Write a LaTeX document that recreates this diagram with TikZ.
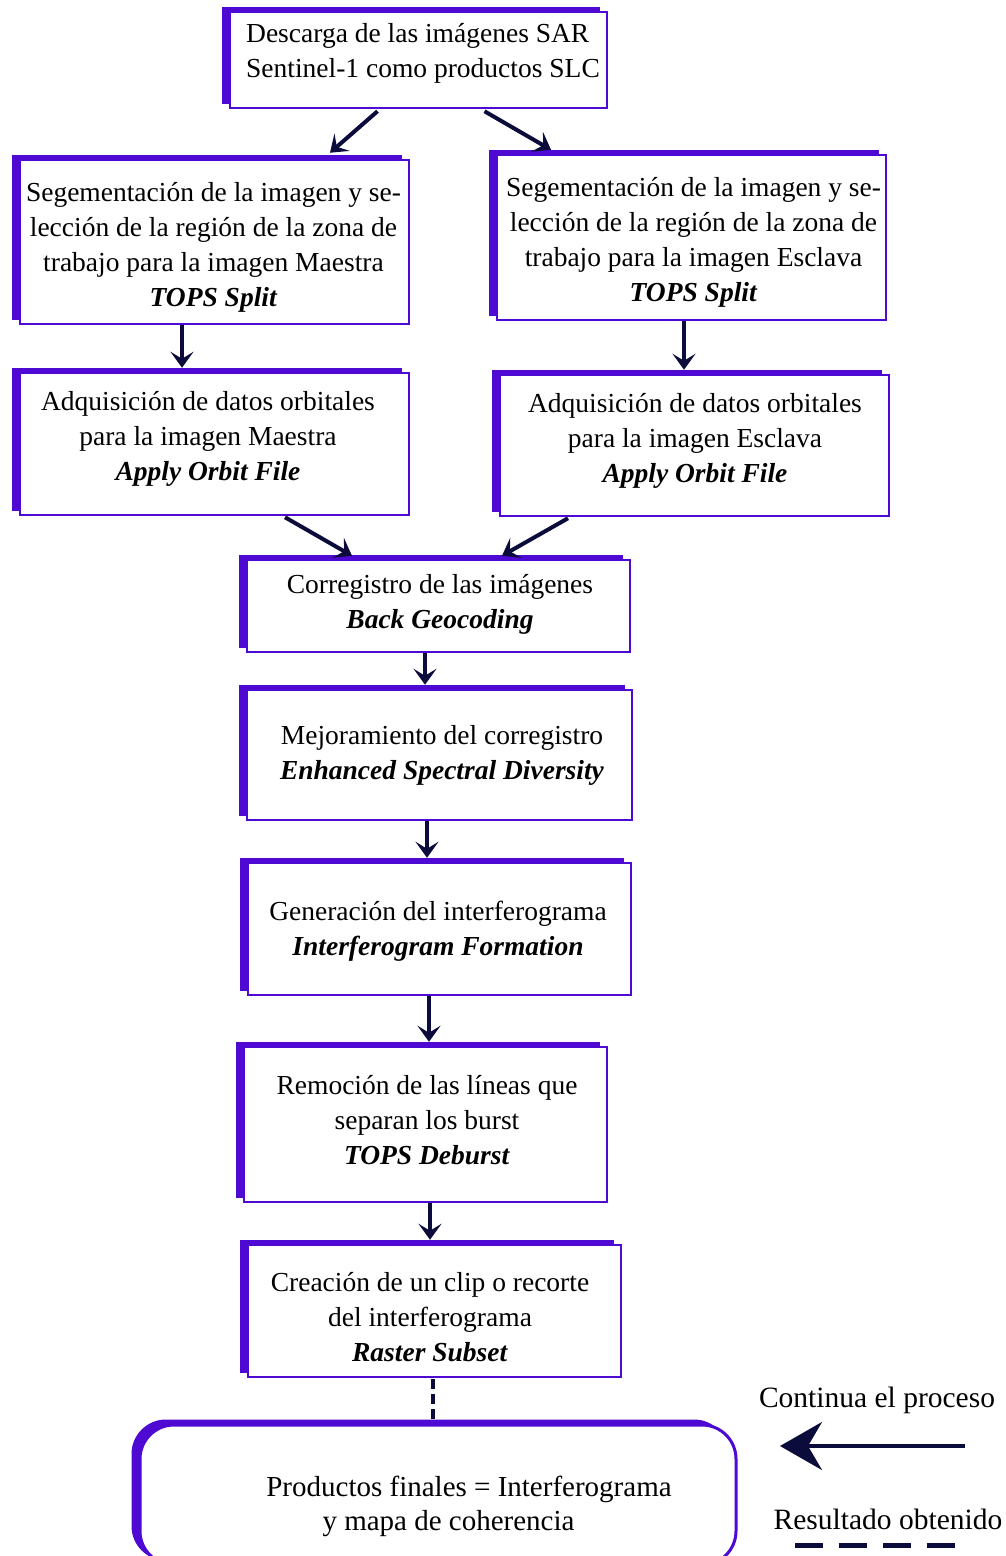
\documentclass[tikz,border=0pt]{standalone}
\usepackage{fontspec}
\setmainfont{Liberation Serif}
\usetikzlibrary{arrows.meta,shadows,calc}
\definecolor{pboxc}{RGB}{78,10,210}
\definecolor{arrc}{RGB}{12,12,60}
\tikzset{
 pbox/.style={draw=pboxc, line width=2.5pt, fill=white, inner sep=0pt,
   general shadow={shadow xshift=-8pt, shadow yshift=5pt, fill=pboxc, draw=pboxc, line width=1pt}},
 btext/.style={align=center, inner sep=0pt, font=\fontsize{27.5}{35}\selectfont},
 flow/.style={draw=arrc, line width=4pt, -{Stealth[length=16pt,width=23pt,inset=7pt]}},
 legtext/.style={font=\fontsize{29.5}{35}\selectfont, inner sep=0pt},
}
\newcommand{\tn}[1]{\textbf{\textit{#1}}}
\begin{document}
\begin{tikzpicture}[x=1pt,y=-1pt]
\useasboundingbox (0,0) rectangle (1005,1556);
\clip (0,0) rectangle (1005,1556);
\fill[white] (0,0) rectangle (1005,1556);

\node[pbox, minimum width=377pt, minimum height=96pt] (b1) at (418.5,60) {};
\node[btext, align=left] (t1) at (423,53) {Descarga de las imágenes SAR\\Sentinel-1 como productos SLC};
\node[pbox, minimum width=389pt, minimum height=164pt] (b2l) at (214.5,242) {};
\node[btext] (t2l) at (213.5,247.5) {Segementación de la imagen y se-\\lección de la región de la zona de\\trabajo para la imagen Maestra\\\tn{TOPS Split}};
\node[pbox, minimum width=389pt, minimum height=165pt] (b2r) at (691.5,237.5) {};
\node[btext] (t2r) at (693.5,242.5) {Segementación de la imagen y se-\\lección de la región de la zona de\\trabajo para la imagen Esclava\\\tn{TOPS Split}};
\node[pbox, minimum width=389pt, minimum height=142pt] (b3l) at (214.5,444) {};
\node[btext] (t3l) at (208,438.5) {Adquisición de datos orbitales\\para la imagen Maestra\\\tn{Apply Orbit File}};
\node[pbox, minimum width=389pt, minimum height=141pt] (b3r) at (694.5,445.5) {};
\node[btext] (t3r) at (695,440.5) {Adquisición de datos orbitales\\para la imagen Esclava\\\tn{Apply Orbit File}};
\node[pbox, minimum width=383pt, minimum height=92pt] (b4) at (438.5,606) {};
\node[btext] (t4) at (440,604) {Corregistro de las imágenes\\\tn{Back Geocoding}};
\node[pbox, minimum width=385pt, minimum height=130pt] (b5) at (439.5,755) {};
\node[btext] (t5) at (442,755) {Mejoramiento del corregistro\\\tn{Enhanced Spectral Diversity}};
\node[pbox, minimum width=383pt, minimum height=132pt] (b6) at (439.5,929) {};
\node[btext] (t6) at (438,931) {Generación del interferograma\\\tn{Interferogram Formation}};
\node[pbox, minimum width=363pt, minimum height=155pt] (b7) at (425.5,1124.5) {};
\node[btext] (t7) at (427,1120.5) {Remoción de las líneas que\\separan los burst\\\tn{TOPS Deburst}};
\node[pbox, minimum width=373pt, minimum height=132pt] (b8) at (434.5,1311) {};
\node[btext] (t8) at (430,1317) {Creación de un clip o recorte\\del interferograma\\\tn{Raster Subset}};
\node[pbox, rounded corners=34pt, line width=3pt, minimum width=596pt, minimum height=140pt] (fin) at (438,1495) {};
\node[btext, font=\fontsize{29}{35}\selectfont] (tf1) at (469,1489) {Productos finales = Interferograma};
\node[btext, font=\fontsize{29}{35}\selectfont] (tf2) at (448.5,1524) {y mapa de coherencia};

\draw[flow] ($(b1.south)+(-41,2)$) -- ($(b2l.north)+(115.5,-6)$);
\draw[flow] ($(b1.south)+(66,2)$) -- ($(b2r.north)+(-140.5,-4)$);
\draw[flow] ($(b2l.south)+(-32.5,0)$) -- ($(b3l.north)+(-32.5,-4)$);
\draw[flow] ($(b2r.south)+(-7.5,0)$) -- ($(b3r.north)+(-10.5,-4)$);
\draw[flow] ($(b3l.south)+(70.5,1)$) -- ($(b4.north)+(-86.5,-3)$);
\draw[flow] ($(b3r.south)+(-126.5,1)$) -- ($(b4.north)+(63.5,-3)$);
\draw[flow] ($(b4.south)+(-13.5,0)$) -- ($(b5.north)+(-14.5,-4)$);
\draw[flow] ($(b5.south)+(-12.5,0)$) -- ($(b6.north)+(-12.5,-4)$);
\draw[flow] ($(b6.south)+(-10.5,0)$) -- ($(b7.north)+(3.5,-4)$);
\draw[flow] ($(b7.south)+(4.5,0)$) -- ($(b8.north)+(-4.5,-4)$);
\draw[draw=arrc, line width=4pt, dash pattern=on 10pt off 5pt] ($(b8.south)+(-1.5,1)$) -- ($(fin.north)+(-5,-5)$);

\node[legtext] (leg1) at (877,1400) {Continua el proceso};
\coordinate (la1) at (965,1446);
\coordinate (la2) at (780,1446);
\draw[draw=arrc, line width=4pt, -{Stealth[length=42pt,width=48pt,inset=14pt]}] (la1) -- (la2);
\node[legtext] (leg2) at (888,1519) {Resultado obtenido};
\coordinate (ld1) at (795,1545);
\coordinate (ld2) at (969,1545);
\draw[draw=arrc, line width=5pt, dash pattern=on 28pt off 16pt] (ld1) -- (ld2);
\end{tikzpicture}
\end{document}
